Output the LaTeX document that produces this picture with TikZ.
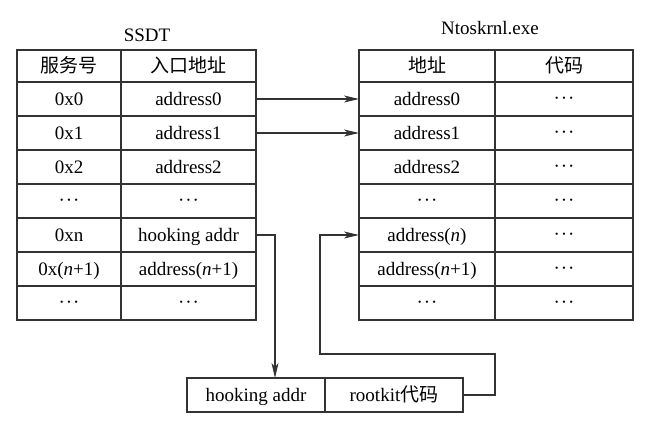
\documentclass[tikz,border=0pt]{standalone}
\usepackage{fontspec}
\setmainfont{Liberation Serif}
\newfontfamily\cjk{Noto Sans CJK SC}
\usetikzlibrary{positioning,arrows.meta}

\newcommand{\cdotrow}{\raisebox{0.5pt}{\textperiodcentered\hspace{1pt}\textperiodcentered\hspace{1pt}\textperiodcentered}}

\begin{document}
\begin{tikzpicture}[
    >={Stealth[length=15pt,width=7pt,inset=4pt]},
    node distance=0pt,
    line width=1.1pt,
    every node/.style={font=\fontsize{19}{22}\selectfont},
    cell/.style={
        rectangle,
        draw=black!80,
        inner sep=0pt,
        outer sep=0pt,
        text height=15pt,
        text depth=3pt,
        minimum height=34pt,},
    headcell/.style={cell,minimum height=32pt},
    pil/.style={
        ->,
        draw=black!80,}
]
\useasboundingbox (0,0) rectangle (659pt,-426pt);

% titles
\node (ssdt) at (147pt,-35pt) {SSDT};
\node (ntos) at (490pt,-28pt) {Ntoskrnl.exe};

% SSDT table
\node[headcell,minimum width=104pt,anchor=north west] (snum0) at (17pt,-50pt) {\cjk 服务号};
\node[headcell,minimum width=135pt,right=of snum0] (saddr0) {\cjk 入口地址};
\node[cell,minimum width=104pt,below=of snum0] (snum1) {0x0};
\node[cell,minimum width=135pt,right=of snum1] (saddr1) {address0};
\node[cell,minimum width=104pt,below=of snum1] (snum2) {0x1};
\node[cell,minimum width=135pt,right=of snum2] (saddr2) {address1};
\node[cell,minimum width=104pt,below=of snum2] (snum3) {0x2};
\node[cell,minimum width=135pt,right=of snum3] (saddr3) {address2};
\node[cell,minimum width=104pt,below=of snum3] (snum4) {\cdotrow};
\node[cell,minimum width=135pt,right=of snum4] (saddr4) {\cdotrow};
\node[cell,minimum width=104pt,below=of snum4] (snum5) {0xn};
\node[cell,minimum width=135pt,right=of snum5] (saddr5) {hooking addr};
\node[cell,minimum width=104pt,below=of snum5] (snum6) {0x(\textit{n}+1)};
\node[cell,minimum width=135pt,right=of snum6] (saddr6) {address(\textit{n}+1)};
\node[cell,minimum width=104pt,below=of snum6] (snum7) {\cdotrow};
\node[cell,minimum width=135pt,right=of snum7] (saddr7) {\cdotrow};

% Ntoskrnl table
\node[headcell,minimum width=136pt,anchor=north west] (naddr0) at (359pt,-50pt) {\cjk 地址};
\node[headcell,minimum width=138pt,right=of naddr0] (ncode0) {\cjk 代码};
\node[cell,minimum width=136pt,below=of naddr0] (naddr1) {address0};
\node[cell,minimum width=138pt,right=of naddr1] (ncode1) {\cdotrow};
\node[cell,minimum width=136pt,below=of naddr1] (naddr2) {address1};
\node[cell,minimum width=138pt,right=of naddr2] (ncode2) {\cdotrow};
\node[cell,minimum width=136pt,below=of naddr2] (naddr3) {address2};
\node[cell,minimum width=138pt,right=of naddr3] (ncode3) {\cdotrow};
\node[cell,minimum width=136pt,below=of naddr3] (naddr4) {\cdotrow};
\node[cell,minimum width=138pt,right=of naddr4] (ncode4) {\cdotrow};
\node[cell,minimum width=136pt,below=of naddr4] (naddr5) {address(\textit{n})};
\node[cell,minimum width=138pt,right=of naddr5] (ncode5) {\cdotrow};
\node[cell,minimum width=136pt,below=of naddr5] (naddr6) {address(\textit{n}+1)};
\node[cell,minimum width=138pt,right=of naddr6] (ncode6) {\cdotrow};
\node[cell,minimum width=136pt,below=of naddr6] (naddr7) {\cdotrow};
\node[cell,minimum width=138pt,right=of naddr7] (ncode7) {\cdotrow};

% rootkit box
\node[cell,minimum width=138pt,anchor=north west] (hook) at (187pt,-378pt) {hooking addr};
\node[cell,minimum width=138pt,right=of hook] (rootkit) {rootkit{\cjk 代码}};

\draw[pil] (saddr1.east) -- (naddr1.west);
\draw[pil] (saddr2.east) -- (naddr2.west);
\draw[pil] (saddr5.east) -| ([xshift=19pt]hook.north);
\draw[pil] (rootkit.east) -- ++(32pt,0) -- ++(0,41pt) -| ([xshift=-39pt]naddr5.west) -- (naddr5.west);

\end{tikzpicture}
\end{document}
